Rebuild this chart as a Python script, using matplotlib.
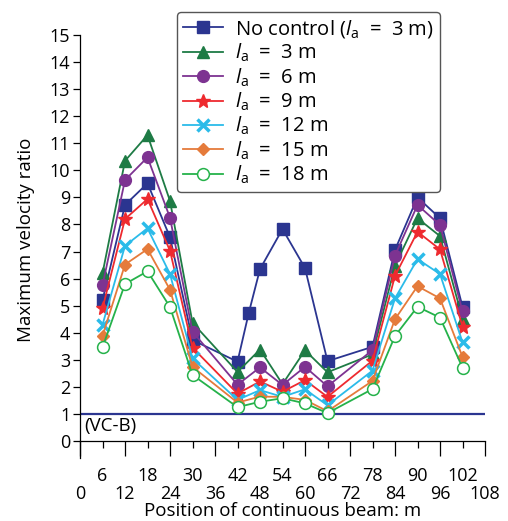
import matplotlib
matplotlib.use("Agg")
import matplotlib.pyplot as plt

plt.rcParams['font.family'] = ['Open Sans', 'DejaVu Sans']
plt.rcParams['mathtext.fontset'] = 'custom'
plt.rcParams['mathtext.rm'] = 'Open Sans'
plt.rcParams['mathtext.it'] = 'Open Sans:italic'

# positions along the beam (m)
x_noctrl = [6, 12, 18, 24, 30, 42, 45, 48, 54, 60, 66, 78, 84, 90, 96, 102]
x_ctrl = [6, 12, 18, 24, 30, 42, 48, 54, 60, 66, 78, 84, 90, 96, 102]

no_control = [5.2, 8.72, 9.52, 7.53, 3.73, 2.93, 4.73, 6.35, 7.83, 6.39, 2.95, 3.48, 7.06, 9.0, 8.23, 4.96]
la_3 = [6.19, 10.35, 11.3, 8.87, 4.37, 2.55, 3.38, 2.1, 3.35, 2.54, 3.2, 6.48, 8.23, 7.57, 4.52]
la_6 = [5.75, 9.64, 10.48, 8.25, 4.04, 2.08, 2.72, 2.07, 2.74, 2.02, 3.36, 6.85, 8.72, 7.98, 4.79]
la_9 = [4.9, 8.2, 8.94, 7.03, 3.45, 1.75, 2.2, 1.82, 2.25, 1.63, 2.97, 6.1, 7.73, 7.08, 4.23]
la_12 = [4.29, 7.21, 7.86, 6.17, 3.05, 1.52, 1.88, 1.63, 1.91, 1.32, 2.6, 5.27, 6.72, 6.17, 3.65]
la_15 = [3.88, 6.52, 7.09, 5.59, 2.74, 1.42, 1.64, 1.63, 1.52, 1.1, 2.22, 4.5, 5.72, 5.27, 3.11]
la_18 = [3.46, 5.8, 6.27, 4.95, 2.44, 1.25, 1.45, 1.58, 1.39, 1.03, 1.92, 3.88, 4.96, 4.56, 2.71]

vcb_limit = 1.0

fig = plt.figure(figsize=(5.08, 5.21), dpi=100)
ax = fig.add_axes([80 / 508, 1 - 458 / 521, 405 / 508, 423 / 521])

navy = '#2B3590'
ax.axhline(vcb_limit, color=navy, lw=1.6, zorder=1)

ax.plot(x_noctrl, no_control, color=navy, marker='s', ms=8.5, lw=1.3,
        label=r'No control ($l_\mathrm{a}$  =  3 m)')
ax.plot(x_ctrl, la_3, color='#1E7B45', marker='^', ms=8.5, lw=1.3,
        label=r'$l_\mathrm{a}$  =  3 m')
ax.plot(x_ctrl, la_6, color='#7D3391', marker='o', ms=8.5, lw=1.3,
        label=r'$l_\mathrm{a}$  =  6 m')
ax.plot(x_ctrl, la_9, color='#EE2A2F', marker='*', ms=10.5, lw=1.3,
        label=r'$l_\mathrm{a}$  =  9 m')
ax.plot(x_ctrl, la_12, color='#2BBBE9', marker='x', ms=8, mew=2.5, lw=1.3,
        label=r'$l_\mathrm{a}$  =  12 m')
ax.plot(x_ctrl, la_15, color='#E57B3B', marker='D', ms=6, lw=1.3,
        label=r'$l_\mathrm{a}$  =  15 m')
ax.plot(x_ctrl, la_18, color='#25B24A', marker='o', ms=8.5, mfc='white', mew=1.1, lw=1.3,
        label=r'$l_\mathrm{a}$  =  18 m')

ax.text(1.2, 0.55, '(VC-B)', fontsize=13.5, va='center', ha='left')

ax.set_xlim(0, 108)
ax.set_ylim(-0.628, 15)
ax.spines['top'].set_visible(False)
ax.spines['right'].set_visible(False)
ax.spines['bottom'].set_position(('data', 0))
ax.spines['bottom'].set_bounds(0, 108)
ax.spines['left'].set_linewidth(0.9)
ax.spines['bottom'].set_linewidth(0.9)

ax.set_yticks(range(0, 16))
ax.tick_params(axis='y', direction='out', length=5, width=0.9, labelsize=13, pad=2)

ax.set_xticks(range(0, 109, 12))
ax.set_xticks(range(6, 108, 12), minor=True)
ax.set_xticklabels([str(v) for v in range(0, 109, 12)])
ax.set_xticklabels([str(v) for v in range(6, 108, 12)], minor=True)
ax.tick_params(axis='x', which='major', direction='out', length=11, width=0.9,
               labelsize=13, pad=21)
ax.tick_params(axis='x', which='minor', direction='out', length=5, width=0.9,
               labelsize=13, pad=14)

fig.text(283 / 508, 1 / 521, 'Position of continuous beam: m', fontsize=13.5,
         ha='center', va='bottom')
fig.text(26 / 508, 1 - 240 / 521, 'Maximum velocity ratio', fontsize=13.5,
         ha='center', va='center', rotation=90)

leg = ax.legend(loc='upper right', bbox_to_anchor=(440 / 508, 1 - 12 / 521),
                bbox_transform=fig.transFigure, fontsize=14.5, frameon=True,
                fancybox=True, edgecolor='#555555', framealpha=1,
                labelspacing=0.1, handlelength=2.0, handletextpad=0.6,
                borderpad=0.3, borderaxespad=0)
leg.get_frame().set_linewidth(1.0)

fig.savefig('out.png', dpi=100)
